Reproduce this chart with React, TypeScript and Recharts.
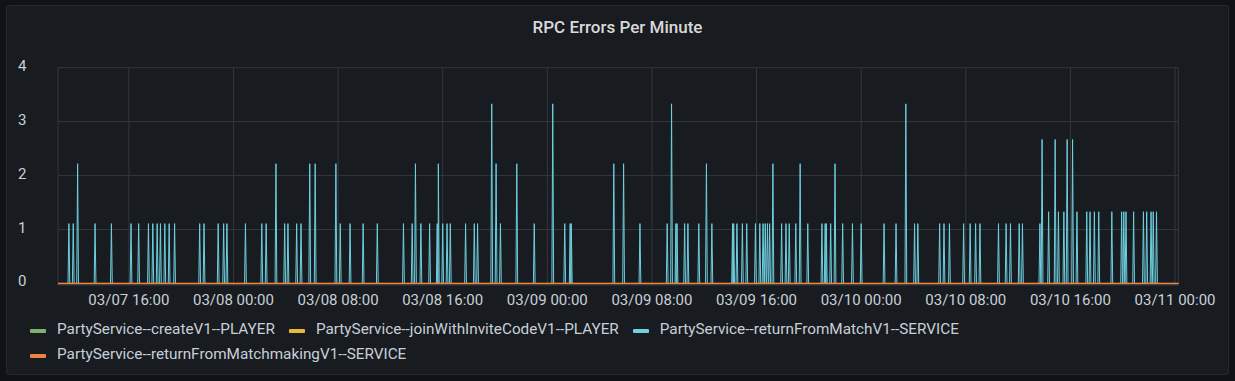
import React from "react";
import { LineChart, Line, XAxis, YAxis, CartesianGrid } from "recharts";

// Time is expressed in minutes since 03/07 00:00
const DOMAIN_START = 635; // 03/07 10:35
const DOMAIN_END = 5775; // 03/11 00:15

const TICK_MINUTES = [960, 1440, 1920, 2400, 2880, 3360, 3840, 4320, 4800, 5280, 5760];
const TICK_LABELS = [
  "03/07 16:00",
  "03/08 00:00",
  "03/08 08:00",
  "03/08 16:00",
  "03/09 00:00",
  "03/09 08:00",
  "03/09 16:00",
  "03/10 00:00",
  "03/10 08:00",
  "03/10 16:00",
  "03/11 00:00",
];
const Y_TICKS = [0, 1, 2, 3, 4];

// Non-zero samples of PartyService--returnFromMatchV1--SERVICE
const SPIKE_MINUTES = [
  685, 705, 725, 805, 880, 970, 1005, 1050, 1070, 1090, 1105, 1125, 1145, 1170,
  1285, 1305, 1370, 1395, 1410, 1495, 1570, 1590, 1635, 1675, 1690, 1730, 1750,
  1790, 1815, 1910, 1930, 1975, 2035, 2100, 2220, 2260, 2275, 2300, 2340, 2375,
  2380, 2400, 2420, 2435, 2505, 2545, 2560, 2625, 2645, 2665, 2740, 2820, 2905,
  2960, 2985, 2990, 3185, 3230, 3305, 3430, 3450, 3470, 3475, 3510, 3525, 3575,
  3610, 3635, 3730, 3735, 3750, 3775, 3795, 3835, 3855, 3870, 3880, 3890, 3900,
  3915, 3955, 3975, 3990, 4020, 4040, 4075, 4140, 4155, 4160, 4180, 4200, 4235,
  4280, 4320, 4425, 4480, 4525, 4565, 4580, 4680, 4700, 4725, 4790, 4820, 4845,
  4865, 4950, 4985, 5005, 5045, 5060, 5140, 5150, 5180, 5210, 5225, 5250, 5265,
  5290, 5310, 5355, 5370, 5390, 5410, 5470, 5515, 5525, 5535, 5570, 5615, 5630,
  5650, 5660, 5675,
];
const SPIKE_VALUES = [
  1.11, 1.11, 2.22, 1.11, 1.11, 1.11, 1.11, 1.11, 1.11, 1.11, 1.11, 1.11, 1.11, 1.11,
  1.11, 1.11, 1.11, 1.11, 1.11, 1.11, 1.11, 1.11, 2.22, 1.11, 1.11, 1.11, 1.11,
  2.22, 2.22, 2.22, 1.11, 1.11, 1.11, 1.11, 1.11, 1.11, 2.22, 1.11, 1.11, 1.11,
  2.22, 1.11, 1.11, 1.11, 1.11, 1.11, 1.11, 3.33, 2.22, 1.11, 2.22, 1.11, 3.33,
  1.11, 1.11, 1.11, 2.22, 2.22, 1.11, 1.11, 3.33, 1.11, 1.11, 1.11, 1.11, 1.11,
  2.22, 1.11, 1.11, 1.11, 1.11, 1.11, 1.11, 1.11, 1.11, 1.11, 1.11, 1.11, 1.11,
  2.22, 1.11, 1.11, 1.11, 1.11, 2.22, 1.11, 1.11, 1.11, 1.11, 1.11, 2.22, 1.11,
  1.11, 1.11, 1.11, 1.11, 3.33, 1.11, 1.11, 1.11, 1.11, 1.11, 1.11, 1.11, 1.11,
  1.11, 1.11, 1.11, 1.11, 1.11, 1.11, 1.11, 2.67, 1.33, 2.67, 1.33, 1.33, 2.67,
  2.67, 1.33, 1.33, 1.33, 1.33, 1.33, 1.33, 1.33, 1.33, 1.33, 1.33, 1.33, 1.33,
  1.33, 1.33, 1.33,
];
// The sampling step around each non-zero sample (minutes); other samples are 0
const SAMPLE_STEP = 4;

const SERIES_KEYS = ["create", "join", "match", "matchmaking"];
const SERIES_NAMES = [
  "PartyService--createV1--PLAYER",
  "PartyService--joinWithInviteCodeV1--PLAYER",
  "PartyService--returnFromMatchV1--SERVICE",
  "PartyService--returnFromMatchmakingV1--SERVICE",
];
const SERIES_COLORS = ["#7eb26d", "#eab839", "#6ed0e0", "#ef843c"];
const SERIES_WIDTHS = [1, 1, 1, 1.6];

function buildData() {
  const m = new Map<number, number>();
  SPIKE_MINUTES.forEach((t, i) => m.set(t, SPIKE_VALUES[i]));
  SPIKE_MINUTES.forEach((t) => {
    [t - SAMPLE_STEP, t + SAMPLE_STEP].forEach((n) => {
      if (!m.has(n)) m.set(n, 0);
    });
  });
  if (!m.has(DOMAIN_START)) m.set(DOMAIN_START, 0);
  if (!m.has(DOMAIN_END)) m.set(DOMAIN_END, 0);
  return Array.from(m.entries())
    .sort((a, b) => a[0] - b[0])
    .map(([t, v]) => ({ t, create: 0, join: 0, match: v, matchmaking: 0 }));
}

const DATA = buildData();

const TEXT = "#c7d0d9";
const FONT = "Roboto, 'Noto Sans', sans-serif";

const renderXTick = (props: any) => {
  const { x, payload } = props;
  const idx = TICK_MINUTES.indexOf(payload.value);
  return (
    <text x={x} y={299.5} textAnchor="middle" dominantBaseline="central" fill={TEXT} fontSize={15} fontFamily={FONT}>
      {idx >= 0 ? TICK_LABELS[idx] : ""}
    </text>
  );
};

const renderYTick = (props: any) => {
  const { y, payload } = props;
  return (
    <text x={18} y={y - 2} textAnchor="start" dominantBaseline="central" fill={TEXT} fontSize={15} fontFamily={FONT}>
      {payload.value}
    </text>
  );
};

export default function App() {
  return (
    <div
      style={{
        position: "absolute",
        left: 0,
        top: 0,
        width: 1235,
        height: 381,
        background: "#111217",
        fontFamily: FONT,
        overflow: "hidden",
      }}
    >
      <div
        style={{
          position: "absolute",
          left: 6,
          top: 5,
          width: 1221,
          height: 368,
          background: "#181b1f",
          border: "1px solid #25282d",
          borderRadius: 3,
        }}
      />
      <div
        style={{
          position: "absolute",
          left: 7,
          top: 15,
          width: 1221,
          textAlign: "center",
          color: "#d8d9da",
          fontSize: 17,
          fontWeight: 500,
          lineHeight: "24px",
        }}
      >
        RPC Errors Per Minute
      </div>
      <div style={{ position: "absolute", left: 0, top: 0 }}>
        <LineChart
          width={1235}
          height={381}
          data={DATA}
          margin={{ top: 67.7, left: 18, right: 56.7, bottom: 65.9 }}
        >
          <CartesianGrid stroke="#34373c" strokeWidth={1} />
          <XAxis
            dataKey="t"
            type="number"
            domain={[DOMAIN_START, DOMAIN_END]}
            ticks={TICK_MINUTES}
            axisLine={false}
            tickLine={false}
            height={30}
            tick={renderXTick}
            interval={0}
          />
          <YAxis
            type="number"
            domain={[-0.03, 4]}
            ticks={Y_TICKS}
            axisLine={false}
            tickLine={false}
            width={40}
            tick={renderYTick}
            interval={0}
          />
          {SERIES_KEYS.map((k, i) => (
            <Line
              key={k}
              type="linear"
              dataKey={k}
              name={SERIES_NAMES[i]}
              stroke={SERIES_COLORS[i]}
              strokeWidth={SERIES_WIDTHS[i]}
              dot={false}
              activeDot={false}
              isAnimationActive={false}
            />
          ))}
        </LineChart>
      </div>
      <div
        style={{
          position: "absolute",
          left: 30,
          top: 317,
          width: 1190,
          display: "flex",
          flexWrap: "wrap",
          color: TEXT,
          fontSize: 15.3,
          lineHeight: "25px",
        }}
      >
        {SERIES_NAMES.map((n, i) => (
          <div key={n} style={{ display: "flex", alignItems: "center", marginRight: 14, whiteSpace: "nowrap" }}>
            <span
              style={{
                display: "inline-block",
                width: 16,
                height: 4,
                borderRadius: 1,
                background: SERIES_COLORS[i],
                marginRight: 11,
                marginTop: 3,
              }}
            />
            <span>{n}</span>
          </div>
        ))}
      </div>
    </div>
  );
}
